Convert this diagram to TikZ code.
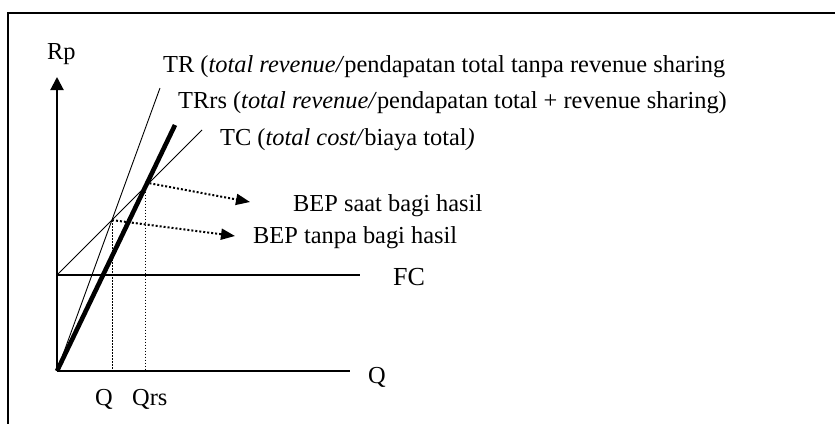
\documentclass[tikz,border=0pt]{standalone}
\usepackage{fontspec}
\setmainfont{Liberation Serif}
\usetikzlibrary{arrows.meta}
\tikzset{
  lbl/.style={anchor=base west, inner sep=0pt, font=\fontsize{24.4}{29}\selectfont},
  axis/.style={line width=2pt},
  thinline/.style={line width=0.9pt},
  thickline/.style={line width=4.6pt},
  guide/.style={line width=1pt, dash pattern=on 1.5pt off 1.5pt},
  pointer/.style={line width=2pt, dash pattern=on 2pt off 2pt, -{Triangle[length=14pt,width=11pt]}},
  frameline/.style={line width=1.6pt}
}
\begin{document}
\begin{tikzpicture}[x=1pt,y=-1pt]
\useasboundingbox (0,0) rectangle (835,423);
% frame
\coordinate (fTL) at (8,13);
\coordinate (fTR) at (836,13);
\coordinate (fBL) at (8,424);
\draw[frameline] (fBL) -- (fTL) -- (fTR);
% key points
\coordinate (O) at (57,371);
\coordinate (Ytop) at (57,77);
\coordinate (Xend) at (350,371);
\coordinate (FCs) at (57,275);
\coordinate (FCe) at (360,275);
\coordinate (TCe) at (202,130);
\coordinate (TRe) at (160,88);
\coordinate (TRrse) at (175,125);
\coordinate (bepA) at (112,220.1);
\coordinate (bepB) at (145.5,182.5);
\coordinate (qA) at (112,371);
\coordinate (qB) at (145.5,371);
\coordinate (tipB) at (250,202);
\coordinate (tipA) at (235,236);
% guides
\draw[guide] (bepA) -- (qA);
\draw[guide] (bepB) -- (qB);
% axes
\draw[axis,-{Triangle[length=13pt,width=13pt]}] (O) -- (Ytop);
\draw[axis] (O) -- (Xend);
\draw[axis] (FCs) -- (FCe);
% curves
\draw[thinline] (FCs) -- (TCe);
\draw[thinline] (O) -- (TRe);
\draw[thickline] (O) -- (TRrse);
% pointers
\draw[pointer] (bepB) -- (tipB);
\draw[pointer] (bepA) -- (tipA);
% labels
\node[lbl] (rp) at (47,59) {Rp};
\node[lbl] (qax) at (368,383) {Q};
\node[lbl] (fc) at (393,285) {\fontsize{26}{30}\selectfont FC};
\node[lbl] (ql) at (95,405) {Q};
\node[lbl] (qrsl) at (132,405) {Qrs};
\node[lbl] (trl) at (163,72) {TR (\textit{total revenue/}pendapatan total tanpa revenue sharing};
\node[lbl] (trrsl) at (178,108) {TRrs (\textit{total revenue/}pendapatan total + revenue sharing)};
\node[lbl] (tcl) at (220,145) {TC (\textit{total cost/}biaya total\textit{)}};
\node[lbl] (bep1) at (293,211) {BEP saat bagi hasil};
\node[lbl] (bep2) at (253,243) {BEP tanpa bagi hasil};
\end{tikzpicture}
\end{document}
